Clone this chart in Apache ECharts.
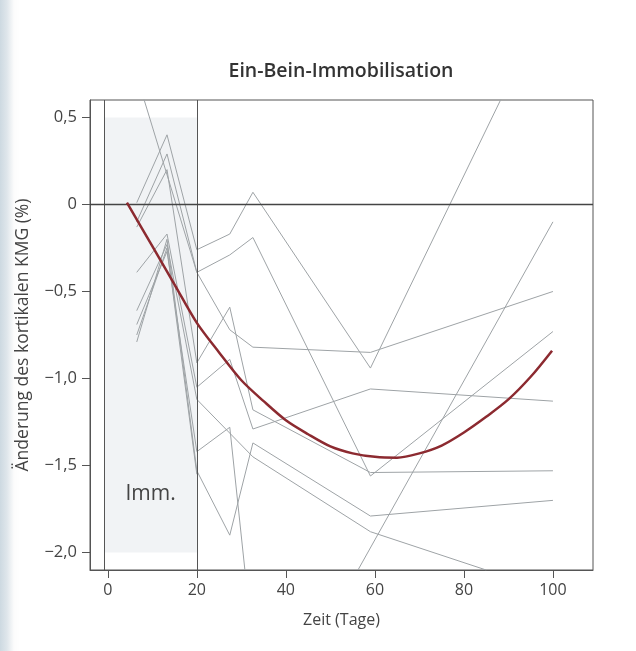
<!DOCTYPE html>
<html>
<head>
<meta charset="utf-8">
<script src="https://cdn.jsdelivr.net/npm/echarts@6/dist/echarts.min.js"></script>
<style>
html,body{margin:0;padding:0;background:#fff;}
#chart{
    width:636px;height:651px;
    background:linear-gradient(to right, #cdd9e1 0, #dfe6eb 7px, #fcfcfc 14px, #fff 20px);
}
</style>
</head>
<body>
<div id="chart"></div>
<script>
// Achsen
var xTicks = [0, 20, 40, 60, 80, 100];
var yTicks = [-2, -1.5, -1, -0.5, 0, 0.5];
var immStart = -0.8;
var immEnd = 20;

// Einzelverlaeufe [Tag, Aenderung %]
var subjA = [[6.5, 0.01], [13.3, 0.40], [20, -0.26], [27.4, -0.17], [32.6, 0.07], [59, -0.94], [100, 1.22]];
var subjB = [[6.5, -0.10], [13.3, 0.29], [20, -0.39], [27.4, -0.29], [32.6, -0.19], [59, -1.56], [100, -0.73]];
var subjC = [[6.5, 0.74], [20, -0.39], [27.4, -0.72], [32.6, -0.82], [59, -0.85], [100, -0.50]];
var subjD = [[6.5, -0.13], [13.3, 0.20], [20, -0.91], [27.4, -0.59], [32.6, -1.18], [59, -1.54], [100, -1.53]];
var subjE = [[6.5, -0.39], [13.3, -0.17], [20, -1.05], [27.4, -0.89], [32.6, -1.29], [59, -1.06], [100, -1.13]];
var subjF = [[6.5, -0.61], [13.3, -0.23], [20, -1.12], [32.6, -1.45], [59, -1.88], [85, -2.10]];
var subjG = [[6.5, -0.69], [13.3, -0.27], [20, -1.42], [27.4, -1.28], [30.8, -2.10]];
var subjH = [[6.5, -0.79], [13.3, -0.20], [20, -1.53], [27.4, -1.90], [32.6, -1.37], [59, -1.79], [100, -1.70]];
var subjI = [[6.5, -0.75], [13.3, -0.25], [20, -1.55]];
var subjJ = [[56.2, -2.10], [100, -0.10]];

// Mittelwertkurve
var meanDays = [4.3, 10, 15, 20, 25, 30, 35, 40, 45, 50, 55, 60, 65, 70, 75, 80, 85, 90, 95, 99.8];
var meanValues = [0.01, -0.24, -0.46, -0.68, -0.85, -1.01, -1.13, -1.24, -1.32, -1.39, -1.43, -1.45, -1.455, -1.43, -1.385, -1.31, -1.22, -1.12, -0.99, -0.84];

var subjects = [subjA, subjB, subjC, subjD, subjE, subjF, subjG, subjH, subjI, subjJ];

var myChart = echarts.init(document.getElementById('chart'));

function fmtY(v){
    if (v === 0) return '0';
    var s = Math.abs(v).toFixed(1).replace('.', ',');
    return (v < 0 ? '\u2212' : '') + s;
}

var series = [];
series.push({
    type: 'line',
    data: [],
    silent: true,
    markArea: {
        silent: true,
        itemStyle: { color: '#f1f3f5' },
        label: {
            show: true,
            position: 'insideBottom',
            distance: 48,
            fontSize: 21,
            color: '#444',
            fontFamily: 'Open Sans'
        },
        data: [[{ name: 'Imm.', coord: [immStart, 0.5] }, { coord: [immEnd, -2.0] }]]
    },
    markLine: {
        silent: true,
        symbol: 'none',
        label: { show: false },
        lineStyle: { color: '#555', width: 1, type: 'solid' },
        data: [
            { xAxis: immStart },
            { xAxis: immEnd },
            { yAxis: 0, lineStyle: { color: '#444', width: 1.3 } }
        ]
    }
});
subjects.forEach(function(s){
    series.push({
        type: 'line',
        data: s,
        symbol: 'none',
        silent: true,
        lineStyle: { color: '#9ea3a6', width: 1 }
    });
});
series.push({
    type: 'line',
    data: meanDays.map(function(d, i){ return [d, meanValues[i]]; }),
    symbol: 'none',
    smooth: 0.3,
    silent: true,
    z: 5,
    lineStyle: { color: '#8c2a30', width: 2.5 }
});

var option = {
    animation: false,
    backgroundColor: 'transparent',
    title: {
        text: 'Ein-Bein-Immobilisation',
        left: 336,
        top: 56,
        textAlign: 'center',
        textStyle: {
            fontFamily: 'Open Sans',
            fontWeight: 600,
            fontSize: 19.5,
            color: '#333'
        }
    },
    grid: {
        left: 90,
        right: 43,
        top: 100,
        bottom: 81,
        show: true,
        borderColor: '#555',
        borderWidth: 1
    },
    xAxis: {
        type: 'value',
        min: -4,
        max: 109,
        name: 'Zeit (Tage)',
        nameLocation: 'middle',
        nameGap: 42,
        nameTextStyle: { fontFamily: 'Open Sans', fontSize: 16, color: '#444' },
        axisLine: { show: true, onZero: false, lineStyle: { color: '#555' } },
        axisTick: { show: true, length: 8, customValues: xTicks, lineStyle: { color: '#555' } },
        axisLabel: { customValues: xTicks, margin: 12, fontFamily: 'Open Sans', fontSize: 16, color: '#444' },
        splitLine: { show: false }
    },
    yAxis: {
        type: 'value',
        min: -2.1,
        max: 0.6,
        name: '\u00c4nderung des kortikalen KMG (%)',
        nameLocation: 'middle',
        nameRotate: 90,
        nameGap: 58,
        nameTextStyle: { fontFamily: 'Open Sans', fontSize: 17.5, color: '#444' },
        axisLine: { show: true, onZero: false, lineStyle: { color: '#555' } },
        axisTick: { show: true, length: 8, customValues: yTicks, lineStyle: { color: '#555' } },
        axisLabel: { customValues: yTicks, margin: 13, formatter: fmtY, fontFamily: 'Open Sans', fontSize: 16.5, color: '#444' },
        splitLine: { show: false }
    },
    series: series
};

myChart.setOption(option);
</script>
</body>
</html>
